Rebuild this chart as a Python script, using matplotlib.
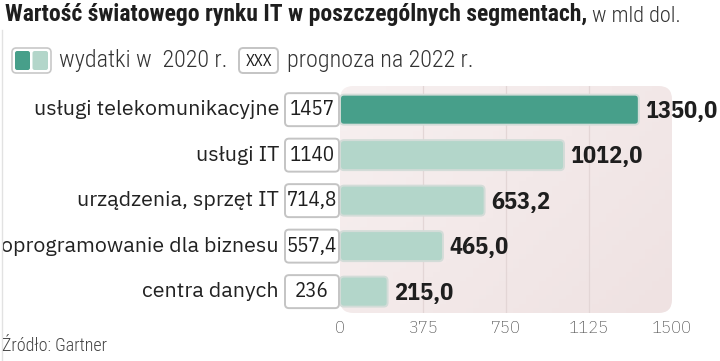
import numpy as np
import matplotlib
matplotlib.use("Agg")
import matplotlib.pyplot as plt
from matplotlib.patches import FancyBboxPatch
from matplotlib.colors import LinearSegmentedColormap
import matplotlib.transforms as mtransforms
from matplotlib.lines import Line2D

# --------------------------
# Data
# --------------------------
categories = ["usługi telekomunikacyjne", "usługi IT", "urządzenia, sprzęt IT",
              "oprogramowanie dla biznesu", "centra danych"]
spend_2020 = [1350.0, 1012.0, 653.2, 465.0, 215.0]
forecast_2022 = [1457, 1140, 714.8, 557.4, 236]
x_ticks = [0, 375, 750, 1125, 1500]

DARK = "#479f8a"
LIGHT = "#b3d6ca"
TXT = "#1e1e1e"

COND = "IBM Plex Sans Condensed"
PLEX = "IBM Plex Sans"
RC = "Roboto Condensed"


def fmt_box(v):
    if float(v).is_integer():
        return f"{int(v)}"
    return f"{v:.1f}".replace(".", ",")


def fmt_val(v):
    return f"{v:.1f}".replace(".", ",")


# --------------------------
# Figure / axes
# --------------------------
W, H = 720, 361
fig = plt.figure(figsize=(W / 100, H / 100), dpi=100)
fig.patch.set_facecolor("white")

ax_l, ax_r, ax_t, ax_b = 340, 672, 86, 313
ax = fig.add_axes([ax_l / W, 1 - ax_b / H, (ax_r - ax_l) / W, (ax_b - ax_t) / H])
ax.set_facecolor("none")
ax.set_xlim(0, 1500)
ax.set_ylim(-0.47, 4.52)
for s in ax.spines.values():
    s.set_visible(False)

px_x = 1500 / (ax_r - ax_l)          # data units per pixel, x
px_y = 4.99 / (ax_b - ax_t)          # data units per pixel, y
aspect = px_y / px_x

# pink panel with soft gradient
panel = FancyBboxPatch((0, 0), 1, 1, boxstyle="round,pad=0,rounding_size=0.04",
                       mutation_aspect=(ax_r - ax_l) / (ax_b - ax_t),
                       transform=ax.transAxes, facecolor="none", edgecolor="none", zorder=0)
ax.add_patch(panel)
cmap = LinearSegmentedColormap.from_list("pnk", ["#f7f0f0", "#efe2e2"])
gx, gy = np.meshgrid(np.linspace(0, 1, 50), np.linspace(0, 1, 50))
grad = ax.imshow(gx * 0.6 + gy * 0.4, extent=(0, 1, 0, 1), transform=ax.transAxes,
                 cmap=cmap, aspect="auto", zorder=0, origin="upper")
grad.set_clip_path(panel)

for t in x_ticks[1:-1]:
    ax.axvline(t, color="#e3d6d6", lw=0.9, zorder=1)

ax.set_xticks(x_ticks)
ax.set_xticklabels([str(t) for t in x_ticks], family=COND, fontsize=13.3,
                   color="#555555", fontweight="light")
ax.tick_params(axis="x", length=0, pad=5)
ax.set_yticks([])

ypos = np.arange(len(categories))[::-1]
bar_h = 30 * px_y
box_h = 33 * px_y
label_tr = mtransforms.blended_transform_factory(fig.transFigure, ax.transData)

for i, (cat, val, fc) in enumerate(zip(categories, spend_2020, forecast_2022)):
    y = ypos[i]
    color = DARK if i == 0 else LIGHT
    bar = FancyBboxPatch((0, y - bar_h / 2), val, bar_h,
                         boxstyle=f"round,pad=0,rounding_size={4 * px_x}",
                         mutation_aspect=aspect, facecolor=color,
                         edgecolor="#d3dcd8", lw=1.4, zorder=3)
    ax.add_patch(bar)
    ax.annotate(fmt_val(val), xy=(val, y), xytext=(4.5, -1), textcoords="offset points",
                va="center", ha="left", family=COND, fontweight="bold",
                fontsize=17.5, color=TXT, zorder=4, annotation_clip=False)

    # forecast box
    x0, x1 = -55 * px_x, -1 * px_x
    box = FancyBboxPatch((x0, y - box_h / 2), x1 - x0, box_h,
                         boxstyle=f"round,pad=0,rounding_size={4 * px_x}",
                         mutation_aspect=aspect, facecolor="white",
                         edgecolor="#c4c4c4", lw=1.4, zorder=5, clip_on=False)
    ax.add_patch(box)
    ax.text((x0 + x1) / 2, y, fmt_box(fc), ha="center", va="center", family=COND,
            fontsize=15, color=TXT, zorder=6, clip_on=False)

    ax.text(279 / W, y, cat, transform=label_tr, ha="right", va="center",
            family=PLEX, fontsize=15.4, color="#222222")

# --------------------------
# Title, legend, source
# --------------------------
t1 = fig.text(5 / W, 1 - 15 / H, "Wartość światowego rynku IT w poszczególnych segmentach,",
              family=RC, fontweight="bold", fontsize=17, color=TXT, va="center")
ax.annotate(" w mld dol.", xy=(1, 0), xycoords=t1, va="bottom", ha="left",
            family=RC, fontweight="light", fontsize=16, color="#333333",
            annotation_clip=False)

fig.patches.append(FancyBboxPatch((12 / W, 1 - 73 / H), 39 / W, 25 / H,
                                  boxstyle="round,pad=0,rounding_size=0.006",
                                  mutation_aspect=W / H, transform=fig.transFigure,
                                  facecolor="white", edgecolor="#c8c8c8", lw=1.2))
fig.patches.append(FancyBboxPatch((15 / W, 1 - 70 / H), 15 / W, 19 / H,
                                  boxstyle="round,pad=0,rounding_size=0.003",
                                  mutation_aspect=W / H, transform=fig.transFigure,
                                  facecolor=DARK, edgecolor="none"))
fig.patches.append(FancyBboxPatch((32.5 / W, 1 - 70 / H), 15.5 / W, 19 / H,
                                  boxstyle="round,pad=0,rounding_size=0.003",
                                  mutation_aspect=W / H, transform=fig.transFigure,
                                  facecolor=LIGHT, edgecolor="none"))
fig.text(59 / W, 1 - 60 / H, "wydatki w  2020 r.", family=RC, fontweight="light",
         fontsize=17.4, color="#333333", va="center")

fig.patches.append(FancyBboxPatch((239 / W, 1 - 73 / H), 39 / W, 25 / H,
                                  boxstyle="round,pad=0,rounding_size=0.006",
                                  mutation_aspect=W / H, transform=fig.transFigure,
                                  facecolor="white", edgecolor="#c4c4c4", lw=1.4))
fig.text(258.5 / W, 1 - 60.5 / H, "XXX", family=COND, fontsize=11.5, color=TXT,
         ha="center", va="center")
fig.text(287 / W, 1 - 60 / H, "prognoza na 2022 r.", family=RC, fontweight="light",
         fontsize=17.4, color="#333333", va="center")

fig.text(2 / W, 1 - 346 / H, "Źródło: Gartner", family=RC, fontweight="light",
         fontsize=13, color="#444444", va="center")

fig.add_artist(Line2D([1.5 / W, 1.5 / W], [0, 1 - 30 / H], transform=fig.transFigure,
                      color="#e2e2e2", lw=1))

fig.savefig("out.png", dpi=100)
